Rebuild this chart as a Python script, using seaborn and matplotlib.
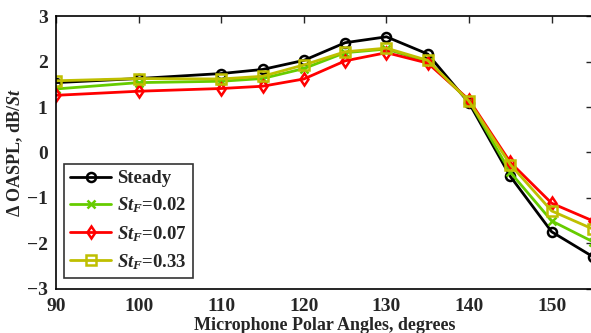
import matplotlib
matplotlib.use("Agg")
import matplotlib.pyplot as plt
import seaborn as sns
import pandas as pd

angles = [90, 100, 110, 115, 120, 125, 130, 135, 140, 145, 150, 155]
steady = [1.54, 1.63, 1.74, 1.83, 2.03, 2.42, 2.55, 2.17, 1.09, -0.53, -1.75, -2.30]
st002 = [1.40, 1.54, 1.57, 1.63, 1.85, 2.20, 2.28, 2.00, 1.14, -0.44, -1.51, -1.97]
st007 = [1.26, 1.35, 1.41, 1.46, 1.62, 2.02, 2.20, 1.97, 1.16, -0.22, -1.12, -1.51]
st033 = [1.58, 1.63, 1.62, 1.68, 1.93, 2.22, 2.30, 2.03, 1.13, -0.27, -1.29, -1.69]
labels = ["Steady", r"$St_F$=0.02", r"$St_F$=0.07", r"$St_F$=0.33"]
colors = ["#000000", "#66cc00", "#ff0000", "#bfbf00"]
markers = ["o", "x", "d", "s"]
xticks = [90, 100, 110, 120, 130, 140, 150]
yticks = [-3, -2, -1, 0, 1, 2, 3]

sns.set_style("white")
plt.rcParams["font.family"] = ["Liberation Serif", "DejaVu Serif"]
plt.rcParams["font.weight"] = "bold"
plt.rcParams["mathtext.fontset"] = "custom"
plt.rcParams["mathtext.it"] = "Liberation Serif:italic:bold"
plt.rcParams["mathtext.rm"] = "Liberation Serif:bold"
plt.rcParams["mathtext.bf"] = "Liberation Serif:bold"

fig = plt.figure(figsize=(5.91, 3.33), dpi=100)
ax = fig.add_axes([56/591, 1-288.5/333, (593-56)/591, (288.5-16.4)/333])

frames = []
for lab, vals in zip(labels, [steady, st002, st007, st033]):
    frames.append(pd.DataFrame({"angle": angles, "val": vals, "series": lab}))
df = pd.concat(frames, ignore_index=True)

for lab, col, mk in zip(labels, colors, markers):
    sub = df[df["series"] == lab]
    sns.lineplot(data=sub, x="angle", y="val", ax=ax, color=col, lw=2.0,
                 marker=mk, markersize=6.5 if mk != "x" else 6,
                 markerfacecolor="none", markeredgecolor=col, markeredgewidth=1.8,
                 label=lab, legend=False)

ax.set_xlim(90, 155)
ax.set_ylim(-3, 3)
ax.set_xticks(xticks)
ax.set_yticks(yticks)
ax.set_xticklabels([str(t) for t in xticks], fontsize=14, fontweight="bold")
ax.set_yticklabels([str(t).replace("-", "\u2212") for t in yticks], fontsize=14, fontweight="bold")
ax.tick_params(axis="x", direction="in", length=5, width=1, top=True, pad=7)
ax.tick_params(axis="y", direction="in", length=5, width=1, right=True, pad=6)
for s in ax.spines.values():
    s.set_linewidth(1.2)
    s.set_color("black")
ax.set_xlabel("Microphone Polar Angles, degrees", fontsize=13, fontweight="bold", labelpad=1)
ax.set_ylabel(r"$\Delta$ OASPL, dB/$St$", fontsize=13, fontweight="bold", labelpad=1)

leg = ax.legend(loc="lower left", bbox_to_anchor=(0.0, 0.01), fontsize=13.5,
                frameon=True, fancybox=False, edgecolor="black", handlelength=2.2,
                handletextpad=0.3, labelspacing=0.45, borderpad=0.35,
                borderaxespad=0.4)
leg.get_frame().set_linewidth(1.2)
for t in leg.get_texts():
    t.set_fontweight("bold")

fig.savefig("out.png", dpi=100)
